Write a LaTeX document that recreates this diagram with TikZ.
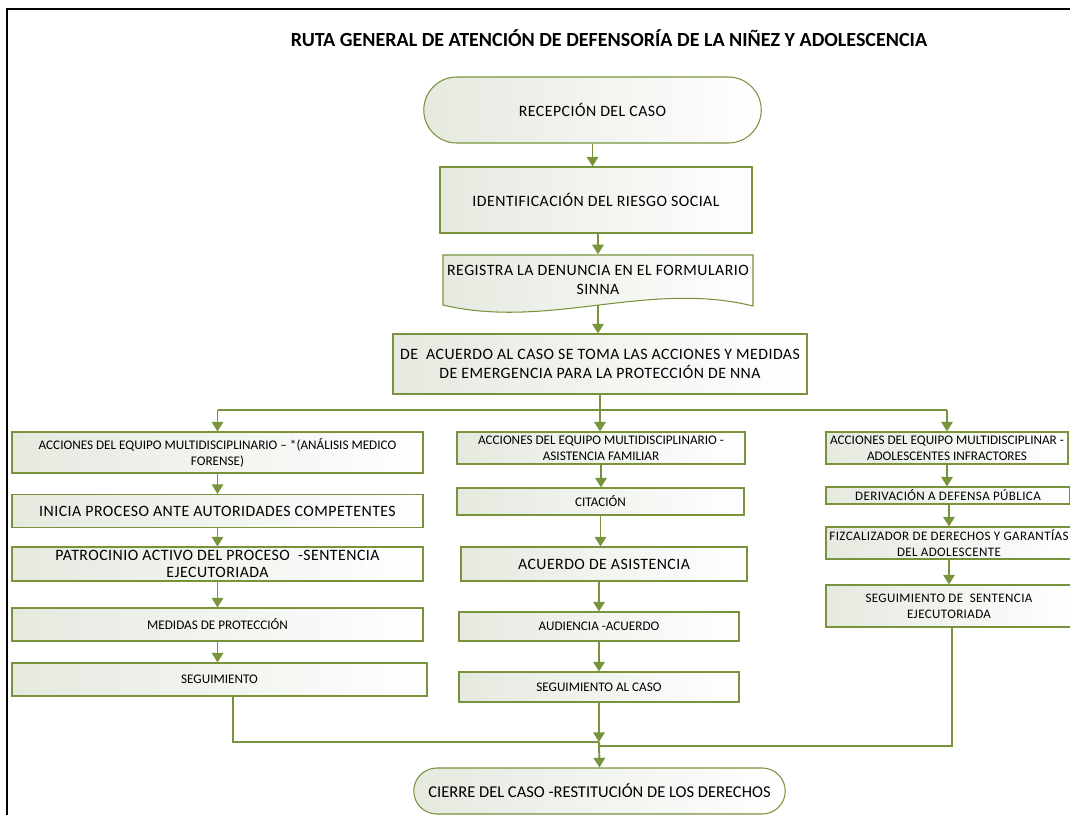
\documentclass[tikz,border=0pt]{standalone}
\usepackage{fontspec}
\setmainfont{Carlito}
\newfontfamily\widefont{Carlito}[LetterSpace=3]
\usetikzlibrary{positioning,shapes.misc,arrows.meta}
\definecolor{routeolive}{RGB}{119,147,60}
\definecolor{routefill}{RGB}{229,233,223}
\tikzset{every picture/.style={line width=0.75pt}}
\tikzset{
  flowbox/.style={rectangle, draw=routeolive, line width=0.6pt, left color=routefill, right color=white, inner sep=1pt, align=center},
  termbox/.style={rounded rectangle, draw=routeolive, line width=0.6pt, left color=routefill, right color=white, inner sep=1pt, align=center},
  smalltext/.style={font=\fontsize{7.5}{9}\selectfont},
  midtext/.style={font=\widefont\fontsize{7.4}{9}\selectfont},
  widetext/.style={font=\widefont\fontsize{9}{10.8}\selectfont},
  flow/.style={draw=routeolive, line width=1.1pt, ->},
  joinline/.style={draw=routeolive, line width=1.1pt},
  sz/.style 2 args={minimum width=#1*0.02cm, minimum height=#2*0.02cm}
}

\begin{document}
\begin{tikzpicture}[x=0.02cm, y=-0.02cm, >={Triangle[width=6.5pt,length=5.5pt]}]
    \clip (0,0) rectangle (1070,815);
    % marco
    \draw[line width=1.6pt] (7,815) -- (7,9) -- (1070,9);
    \node[font=\bfseries\fontsize{11.4}{13}\selectfont] (title) at (609,38) {RUTA GENERAL DE ATENCIÓN DE DEFENSORÍA DE LA NIÑEZ Y ADOLESCENCIA};

    % tronco
    \node[termbox, sz={341}{66}, widetext] (recep) at (592.5,110) {RECEPCIÓN DEL CASO};
    \node[flowbox, sz={312}{66}, widetext] (ident) at (596,200) {IDENTIFICACIÓN DEL RIESGO SOCIAL};
    \path[draw=routeolive, line width=0.6pt, left color=routefill, right color=white]
        (443,255) -- (753,255) -- (753,306) .. controls (648,280) and (548,330) .. (443,305) -- cycle;
    \node[widetext, align=center, inner sep=0pt, sz={310}{49}] (reg) at (598,279.5) {REGISTRA LA DENUNCIA EN EL FORMULARIO\\SINNA};
    \node[flowbox, sz={414}{60}, widetext] (acuerdo) at (600,364) {DE~ ACUERDO AL CASO SE TOMA LAS ACCIONES Y MEDIDAS\\DE EMERGENCIA PARA LA PROTECCIÓN DE NNA};
    \draw[flow] (recep.south) -- (recep.south |- ident.north);
    \draw[flow] (reg.north |- ident.south) -- (reg.north);
    \draw[flow] (reg.south) -- (reg.south |- acuerdo.north);

    % columna izquierda
    \node[flowbox, sz={411}{41}, smalltext] (a1) at (217.5,452.5) {ACCIONES DEL EQUIPO MULTIDISCIPLINARIO – *(ANÁLISIS MEDICO\\FORENSE)};
    \node[flowbox, sz={411}{33}, widetext] (a2) at (217.5,511) {INICIA PROCESO ANTE AUTORIDADES COMPETENTES};
    \node[flowbox, sz={411}{34}, widetext, font=\widefont\fontsize{9}{10}\selectfont] (a3) at (217.5,564) {PATROCINIO ACTIVO DEL PROCESO~ -SENTENCIA\\EJECUTORIADA};
    \node[flowbox, sz={411}{33}, smalltext] (a4) at (217.5,624.5) {MEDIDAS DE PROTECCIÓN};
    \node[flowbox, sz={415}{33}, smalltext] (a5) at (219.5,679.5) {SEGUIMIENTO};
    \draw[flow] (a1.south) -- (a2.north);
    \draw[flow] (a2.south) -- (a3.north);
    \draw[flow] (a3.south) -- (a4.north);
    \draw[flow] (a4.south) -- (a4.south |- a5.north);

    % columna central
    \node[flowbox, sz={288}{32}, smalltext] (b1) at (601,448) {ACCIONES DEL EQUIPO MULTIDISCIPLINARIO -\\ASISTENCIA FAMILIAR};
    \node[flowbox, sz={287}{27}, smalltext] (b2) at (600.5,501.5) {CITACIÓN};
    \node[flowbox, sz={286}{34}, widetext] (b3) at (604,564) {ACUERDO DE ASISTENCIA};
    \node[flowbox, sz={280}{29}, smalltext] (b4) at (599,626.5) {AUDIENCIA -ACUERDO};
    \node[flowbox, sz={280}{30}, smalltext] (b5) at (599,687) {SEGUIMIENTO AL CASO};
    \draw[flow] (b1.south) -- (b1.south |- b2.north);
    \draw[flow] (b2.south) -- (b2.south |- b3.north);
    \draw[flow] (b4.north |- b3.south) -- (b4.north);
    \draw[flow] (b4.south) -- (b4.south |- b5.north);

    % columna derecha
    \node[flowbox, sz={242}{32}, smalltext] (c1) at (947,448) {ACCIONES DEL EQUIPO MULTIDISCIPLINAR -\\ADOLESCENTES INFRACTORES};
    \node[flowbox, sz={244}{17}, midtext] (c2) at (948,495.5) {DERIVACIÓN A DEFENSA PÚBLICA};
    \node[flowbox, sz={246}{32}, midtext] (c3) at (949,543) {FIZCALIZADOR DE DERECHOS Y GARANTÍAS\\DEL ADOLESCENTE};
    \node[flowbox, sz={246}{42}, midtext] (c4) at (949,606) {SEGUIMIENTO DE~ SENTENCIA\\EJECUTORIADA};
    \draw[flow] (c1.south) -- (c1.south |- c2.north);
    \draw[flow] (c3.north |- c2.south) -- (c3.north);
    \draw[flow] (c3.south) -- (c4.north);

    % reparto
    \coordinate (split) at (600,410);
    \draw[joinline] (acuerdo.south) -- (split);
    \draw[joinline] (split -| a1.north) -- (split -| c1.north);
    \draw[flow] (split -| a1.north) -- (a1.north);
    \draw[flow] (split) -- (split |- b1.north);
    \draw[flow] (split -| c1.north) -- (c1.north);

    % cierre
    \node[termbox, sz={375}{46}, widetext, font=\fontsize{9.4}{11}\selectfont] (cierre) at (599.5,791) {CIERRE DEL CASO -RESTITUCIÓN DE LOS DERECHOS};
    \coordinate (mL) at (233,742);
    \coordinate (mR) at (952,746);
    \draw[joinline] (a5.south -| mL) -- (mL) -- (mL -| b5.south);
    \draw[joinline] (c4.south -| mR) -- (mR) -- (mR -| b5.south);
    \draw[flow] (b5.south) -- (b5.south |- mL);
    \draw[flow] (b5.south |- mL) -- (cierre.north);
\end{tikzpicture}
\end{document}
